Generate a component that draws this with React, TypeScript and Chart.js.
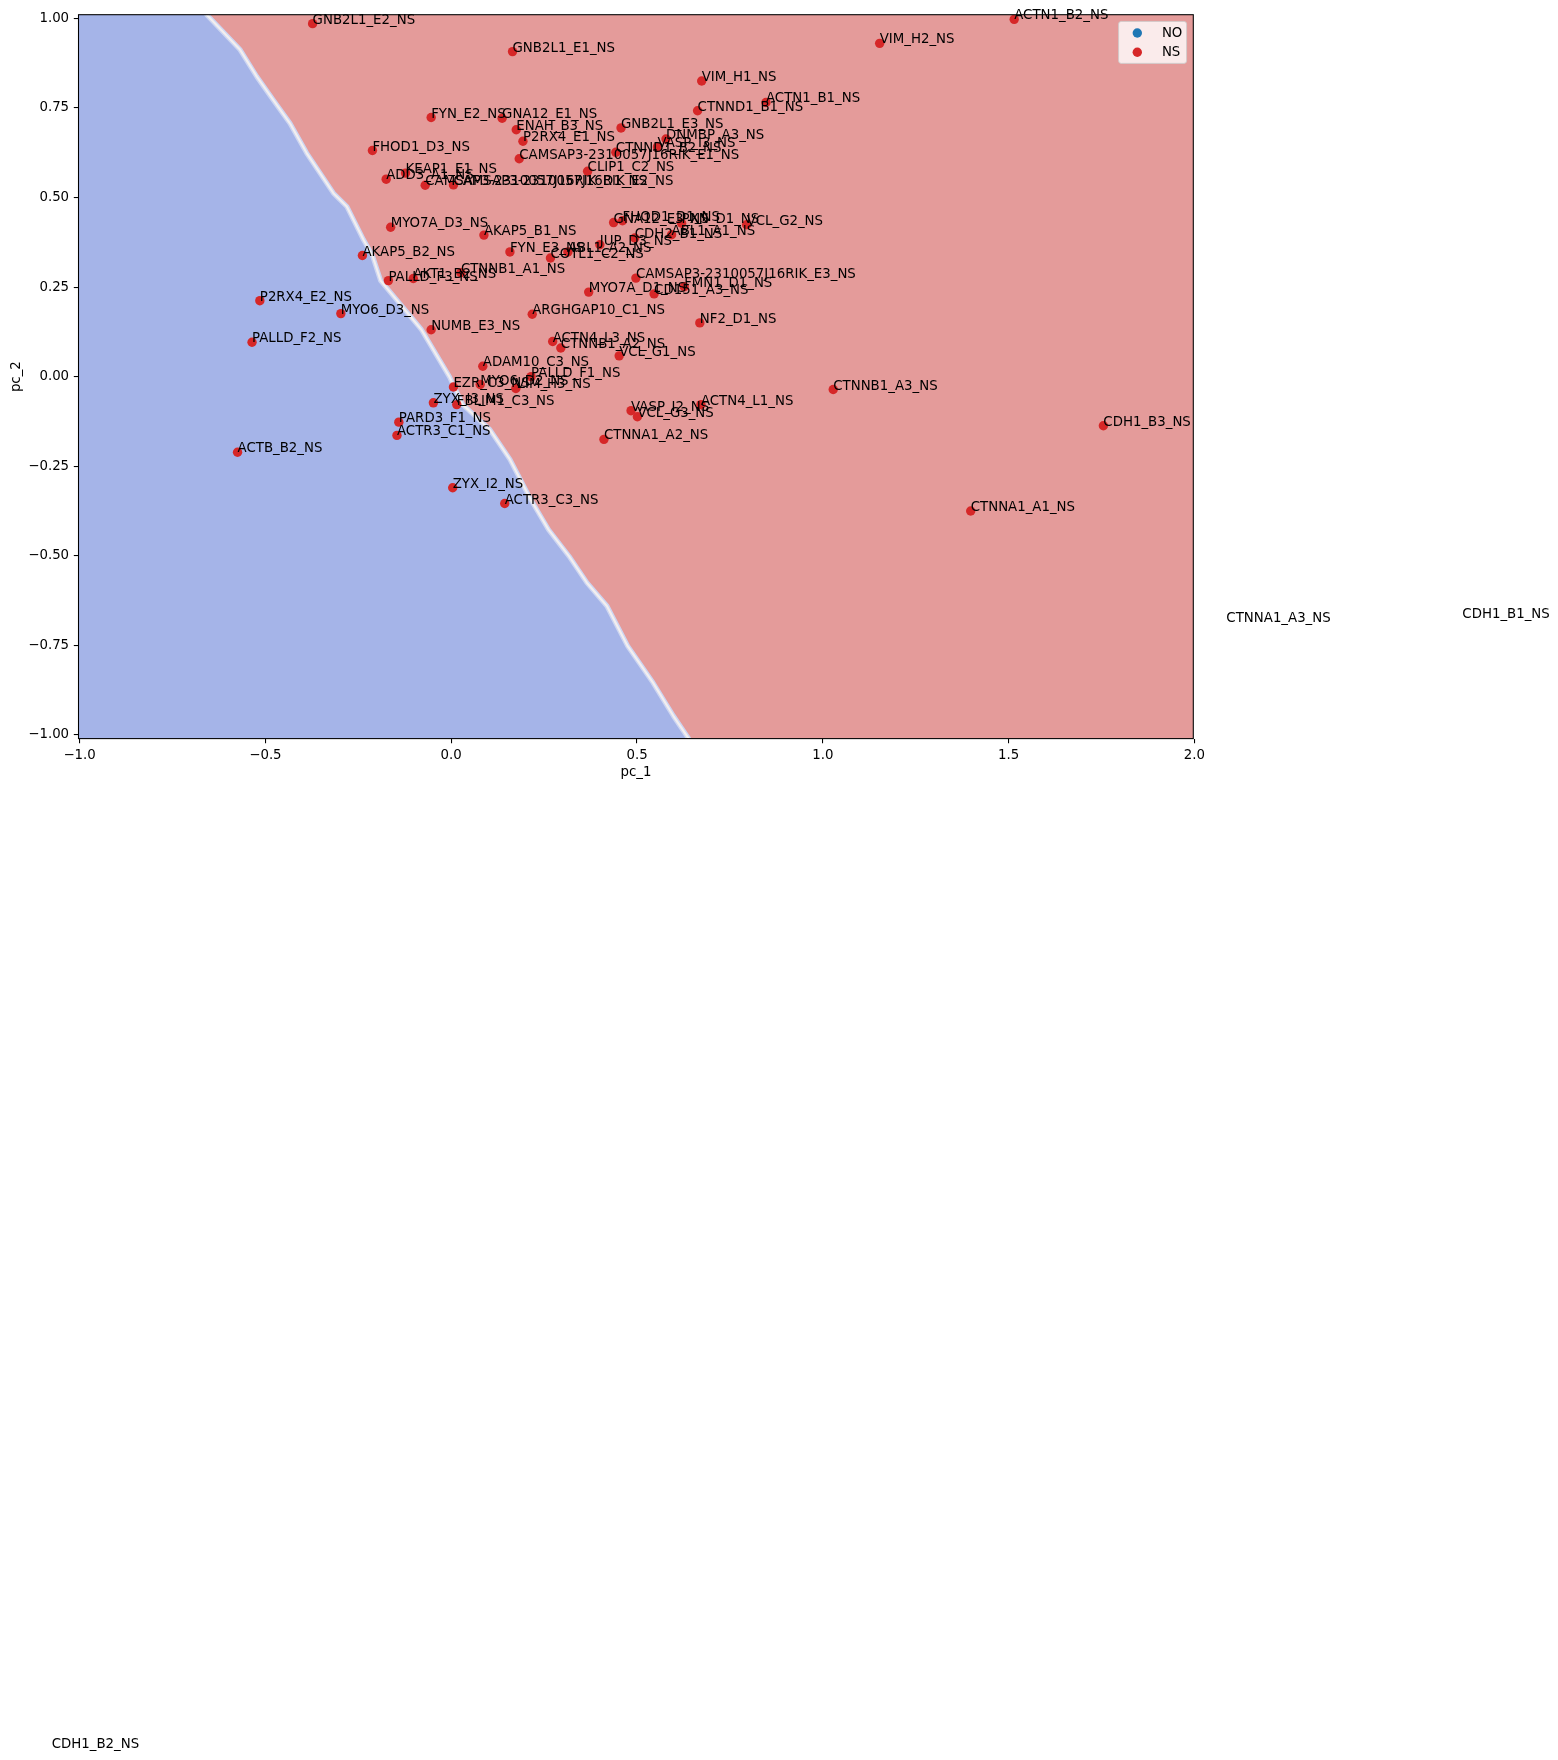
import React, { useEffect, useRef } from "react";
import { Chart, registerables } from "chart.js";

Chart.register(...registerables);

// ---------- data ----------
const pointLabels = [
  "GNB2L1_E2_NS", "GNB2L1_E1_NS", "ACTN1_B2_NS", "VIM_H2_NS", "VIM_H1_NS",
  "ACTN1_B1_NS", "CTNND1_B1_NS", "FYN_E2_NS", "GNA12_E1_NS", "ENAH_B3_NS",
  "GNB2L1_E3_NS", "P2RX4_E1_NS", "DNMBP_A3_NS", "VASP_I3_NS", "CTNND1_B2_NS",
  "CAMSAP3-2310057J16RIK_E1_NS", "FHOD1_D3_NS", "CLIP1_C2_NS", "KEAP1_E1_NS", "ADD3_A1_NS",
  "CAMSAP3-2310057J16RIK_D1_NS", "CAMSAP3-2310057J16RIK_E2_NS", "MYO7A_D3_NS", "AKAP5_B1_NS", "GNA12_E3_NS",
  "FHOD1_D1_NS", "PXN_D1_NS", "VCL_G2_NS", "ABL1_A1_NS", "CDH2_B1_NS",
  "JUP_D3_NS", "AKAP5_B2_NS", "FYN_E3_NS", "ABL1_A2_NS", "COTL1_C2_NS",
  "PALLD_F3_NS", "AKT1_B2_NS", "CTNNB1_A1_NS", "CAMSAP3-2310057J16RIK_E3_NS", "P2RX4_E2_NS",
  "MYO7A_D1_NS", "FMN1_D1_NS", "CD151_A3_NS", "MYO6_D3_NS", "ARGHGAP10_C1_NS",
  "NF2_D1_NS", "NUMB_E3_NS", "PALLD_F2_NS", "ACTN4_L3_NS", "CTNNB1_A2_NS",
  "VCL_G1_NS", "ADAM10_C3_NS", "PALLD_F1_NS", "MYO6_D2_NS", "VIM_H3_NS",
  "EZR_C3_NS", "CTNNB1_A3_NS", "ZYX_I3_NS", "FBLIM1_C3_NS", "ACTN4_L1_NS",
  "VASP_I2_NS", "VCL_G3_NS", "CDH1_B3_NS", "PARD3_F1_NS", "ACTR3_C1_NS",
  "CTNNA1_A2_NS", "ACTB_B2_NS", "ZYX_I2_NS", "ACTR3_C3_NS", "CTNNA1_A1_NS",
  "CTNNA1_A3_NS", "CDH1_B1_NS", "CDH1_B2_NS",
];

const pc1 = [
  -0.373, 0.165, 1.515, 1.153, 0.674,
  0.847, 0.663, -0.054, 0.137, 0.175,
  0.457, 0.193, 0.578, 0.555, 0.443,
  0.183, -0.212, 0.367, -0.123, -0.175,
  -0.070, 0.006, -0.163, 0.088, 0.437,
  0.461, 0.620, 0.795, 0.593, 0.494,
  0.400, -0.239, 0.158, 0.314, 0.267,
  -0.169, -0.102, 0.026, 0.497, -0.515,
  0.370, 0.627, 0.546, -0.297, 0.218,
  0.669, -0.054, -0.536, 0.273, 0.295,
  0.452, 0.085, 0.215, 0.078, 0.174,
  0.006, 1.028, -0.048, 0.015, 0.672,
  0.484, 0.501, 1.755, -0.141, -0.146,
  0.411, -0.575, 0.004, 0.144, 1.398,
  2.086, 2.721, -1.075,
];

const pc2 = [
  0.985, 0.907, 0.997, 0.930, 0.825,
  0.765, 0.742, 0.723, 0.721, 0.689,
  0.694, 0.657, 0.663, 0.641, 0.626,
  0.608, 0.631, 0.573, 0.568, 0.551,
  0.534, 0.535, 0.417, 0.395, 0.430,
  0.435, 0.428, 0.424, 0.396, 0.387,
  0.368, 0.338, 0.348, 0.348, 0.331,
  0.268, 0.274, 0.290, 0.275, 0.212,
  0.236, 0.251, 0.231, 0.176, 0.174,
  0.150, 0.131, 0.096, 0.098, 0.080,
  0.058, 0.029, 0.000, -0.022, -0.033,
  -0.029, -0.036, -0.073, -0.078, -0.078,
  -0.095, -0.112, -0.137, -0.127, -0.164,
  -0.175, -0.211, -0.310, -0.354, -0.375,
  -0.686, -0.674, -3.827,
];

const classNames = ["NO", "NS"];
const classColors = ["#1f77b4", "#d62728"];

// decision boundary (pc_1 at given pc_2), top to bottom
const boundaryPc2 = [
  1.01, 0.912, 0.837, 0.772, 0.707, 0.624, 0.568, 0.512, 0.475, 0.382,
  0.338, 0.268, 0.131, 0.0, -0.078, -0.148, -0.231, -0.343, -0.427, -0.501,
  -0.575, -0.64, -0.752, -0.854, -0.947, -1.01,
];
const boundaryPc1 = [
  -0.658, -0.568, -0.523, -0.479, -0.434, -0.389, -0.353, -0.317, -0.281, -0.236,
  -0.212, -0.19, -0.08, -0.005, 0.031, 0.104, 0.158, 0.214, 0.262, 0.317,
  0.365, 0.419, 0.475, 0.543, 0.598, 0.639,
];

const xTickValues = [-1, -0.5, 0, 0.5, 1, 1.5, 2];
const xTickLabels = ["\u22121.0", "\u22120.5", "0.0", "0.5", "1.0", "1.5", "2.0"];
const yTickValues = [-1, -0.75, -0.5, -0.25, 0, 0.25, 0.5, 0.75, 1];
const yTickLabels = ["\u22121.00", "\u22120.75", "\u22120.50", "\u22120.25", "0.00", "0.25", "0.50", "0.75", "1.00"];

const xTitle = "pc_1";
const yTitle = "pc_2";

// ---------- styles ----------
const W = 1558;
const H = 1760;
const FONT = '"DejaVu Sans", "Liberation Sans", sans-serif';
const FS = 13.33;
const BLUE_REGION = "#a5b4e8";
const RED_REGION = "#e49b9a";
const DOT_R = 4.7;

const regionsPlugin = {
  id: "regions",
  beforeDatasetsDraw(chart: any) {
    const { ctx, chartArea, scales } = chart;
    const { left, right, top, bottom } = chartArea;
    const xs = scales.x;
    const ys = scales.y;
    ctx.save();
    ctx.beginPath();
    ctx.rect(left, top, right - left, bottom - top);
    ctx.clip();
    ctx.fillStyle = RED_REGION;
    ctx.fillRect(left, top, right - left, bottom - top);
    const pts = boundaryPc1.map((v, i) => [xs.getPixelForValue(v), ys.getPixelForValue(boundaryPc2[i])]);
    ctx.beginPath();
    ctx.moveTo(left - 2, pts[0][1] - 2);
    ctx.lineTo(pts[0][0], pts[0][1] - 2);
    pts.forEach((p) => ctx.lineTo(p[0], p[1]));
    ctx.lineTo(pts[pts.length - 1][0], pts[pts.length - 1][1] + 2);
    ctx.lineTo(left - 2, pts[pts.length - 1][1] + 2);
    ctx.closePath();
    ctx.fillStyle = BLUE_REGION;
    ctx.fill();
    // transition band
    ctx.beginPath();
    ctx.moveTo(pts[0][0], pts[0][1] - 3);
    pts.forEach((p) => ctx.lineTo(p[0], p[1]));
    ctx.lineTo(pts[pts.length - 1][0], pts[pts.length - 1][1] + 3);
    ctx.lineJoin = "round";
    ctx.strokeStyle = "#cdd6f2";
    ctx.lineWidth = 5;
    ctx.stroke();
    ctx.strokeStyle = "#f3efef";
    ctx.lineWidth = 2.2;
    ctx.stroke();
    ctx.restore();
  },
};

const overlayPlugin = {
  id: "overlay",
  afterDatasetsDraw(chart: any) {
    const { ctx, chartArea, scales } = chart;
    const { left, right, top, bottom } = chartArea;
    ctx.save();
    // spines
    ctx.strokeStyle = "#000";
    ctx.lineWidth = 1.07;
    ctx.strokeRect(left, top, right - left, bottom - top);
    // point annotations
    ctx.fillStyle = "#000";
    ctx.font = `${FS}px ${FONT}`;
    ctx.textAlign = "left";
    ctx.textBaseline = "alphabetic";
    pointLabels.forEach((lab, i) => {
      const px = scales.x.getPixelForValue(pc1[i]);
      const py = scales.y.getPixelForValue(pc2[i]);
      ctx.fillText(lab, px, py);
    });
    // legend
    const lw = 68;
    const lh = 42;
    const lx = right - 6.7 - lw;
    const ly = top + 6.7;
    ctx.globalAlpha = 0.8;
    ctx.beginPath();
    (ctx as any).roundRect(lx, ly, lw, lh, 2.7);
    ctx.fillStyle = "#ffffff";
    ctx.fill();
    ctx.strokeStyle = "#cccccc";
    ctx.lineWidth = 1;
    ctx.stroke();
    ctx.globalAlpha = 1;
    chart.data.datasets.forEach((ds: any, i: number) => {
      const cy = ly + 11.6 + i * 19.3;
      ctx.beginPath();
      ctx.arc(lx + 18.7, cy, DOT_R, 0, Math.PI * 2);
      ctx.fillStyle = ds.backgroundColor;
      ctx.fill();
      ctx.fillStyle = "#000";
      ctx.textBaseline = "middle";
      ctx.fillText(ds.label, lx + 43.3, cy + 0.5);
    });
    ctx.restore();
  },
  afterDraw(chart: any) {
    const { ctx, chartArea } = chart;
    const { left, right, top, bottom } = chartArea;
    ctx.save();
    ctx.fillStyle = "#000";
    ctx.font = `${FS}px ${FONT}`;
    ctx.textAlign = "center";
    ctx.textBaseline = "middle";
    ctx.fillText(xTitle, (left + right) / 2, bottom + 34);
    ctx.translate(17, (top + bottom) / 2);
    ctx.rotate(-Math.PI / 2);
    ctx.fillText(yTitle, 0, 0);
    ctx.restore();
  },
};

export default function App() {
  const ref = useRef<HTMLCanvasElement>(null);
  useEffect(() => {
    document.body.style.margin = "0";
    const canvas = ref.current!;
    const classOf = (lab: string) => (lab.endsWith("_NS") ? "NS" : "NO");
    const chart = new Chart(canvas, {
      type: "scatter",
      data: {
        datasets: classNames.map((name, ci) => ({
          label: name,
          data: pc1
            .map((v, i) => ({ x: v, y: pc2[i], c: classOf(pointLabels[i]) }))
            .filter((p) => p.c === name)
            .map((p) => ({ x: p.x, y: p.y })),
          backgroundColor: classColors[ci],
          borderColor: classColors[ci],
          borderWidth: 0,
          pointRadius: DOT_R,
          pointHoverRadius: DOT_R,
          clip: 0,
        })),
      },
      options: {
        responsive: false,
        maintainAspectRatio: false,
        animation: false,
        devicePixelRatio: 1,
        events: [],
        layout: { padding: { left: 0, top: 14.7, right: W - 1193.3, bottom: 0 } },
        plugins: { legend: { display: false }, tooltip: { enabled: false } },
        scales: {
          x: {
            type: "linear",
            min: -1.003,
            max: 1.997,
            afterBuildTicks: (s: any) => {
              s.ticks = xTickValues.map((v) => ({ value: v }));
            },
            afterFit: (s: any) => {
              s.height = H - 738.6;
              s.paddingLeft = 0;
              s.paddingRight = 0;
              s.paddingTop = 0;
              s.paddingBottom = 0;
            },
            ticks: {
              autoSkip: false,
              maxRotation: 0,
              minRotation: 0,
              padding: 4.7,
              color: "#000",
              font: { family: FONT, size: FS },
              callback: (_v: any, i: number) => xTickLabels[i],
            },
            grid: { drawOnChartArea: false, drawTicks: true, tickLength: 4.7, color: "#000", lineWidth: 1.07 },
            border: { display: false },
          },
          y: {
            type: "linear",
            min: -1.01,
            max: 1.01,
            afterBuildTicks: (s: any) => {
              s.ticks = yTickValues.map((v) => ({ value: v }));
            },
            afterFit: (s: any) => {
              s.width = 78.5;
              s.paddingLeft = 0;
              s.paddingRight = 0;
              s.paddingTop = 0;
              s.paddingBottom = 0;
            },
            ticks: {
              autoSkip: false,
              padding: 4.7,
              color: "#000",
              font: { family: FONT, size: FS },
              callback: (_v: any, i: number) => yTickLabels[i],
            },
            grid: { drawOnChartArea: false, drawTicks: true, tickLength: 4.7, color: "#000", lineWidth: 1.07 },
            border: { display: false },
          },
        },
      } as any,
      plugins: [regionsPlugin, overlayPlugin],
    });
    return () => chart.destroy();
  }, []);
  return (
    <canvas
      ref={ref}
      width={W}
      height={H}
      style={{ display: "block", width: W, height: H }}
    />
  );
}
